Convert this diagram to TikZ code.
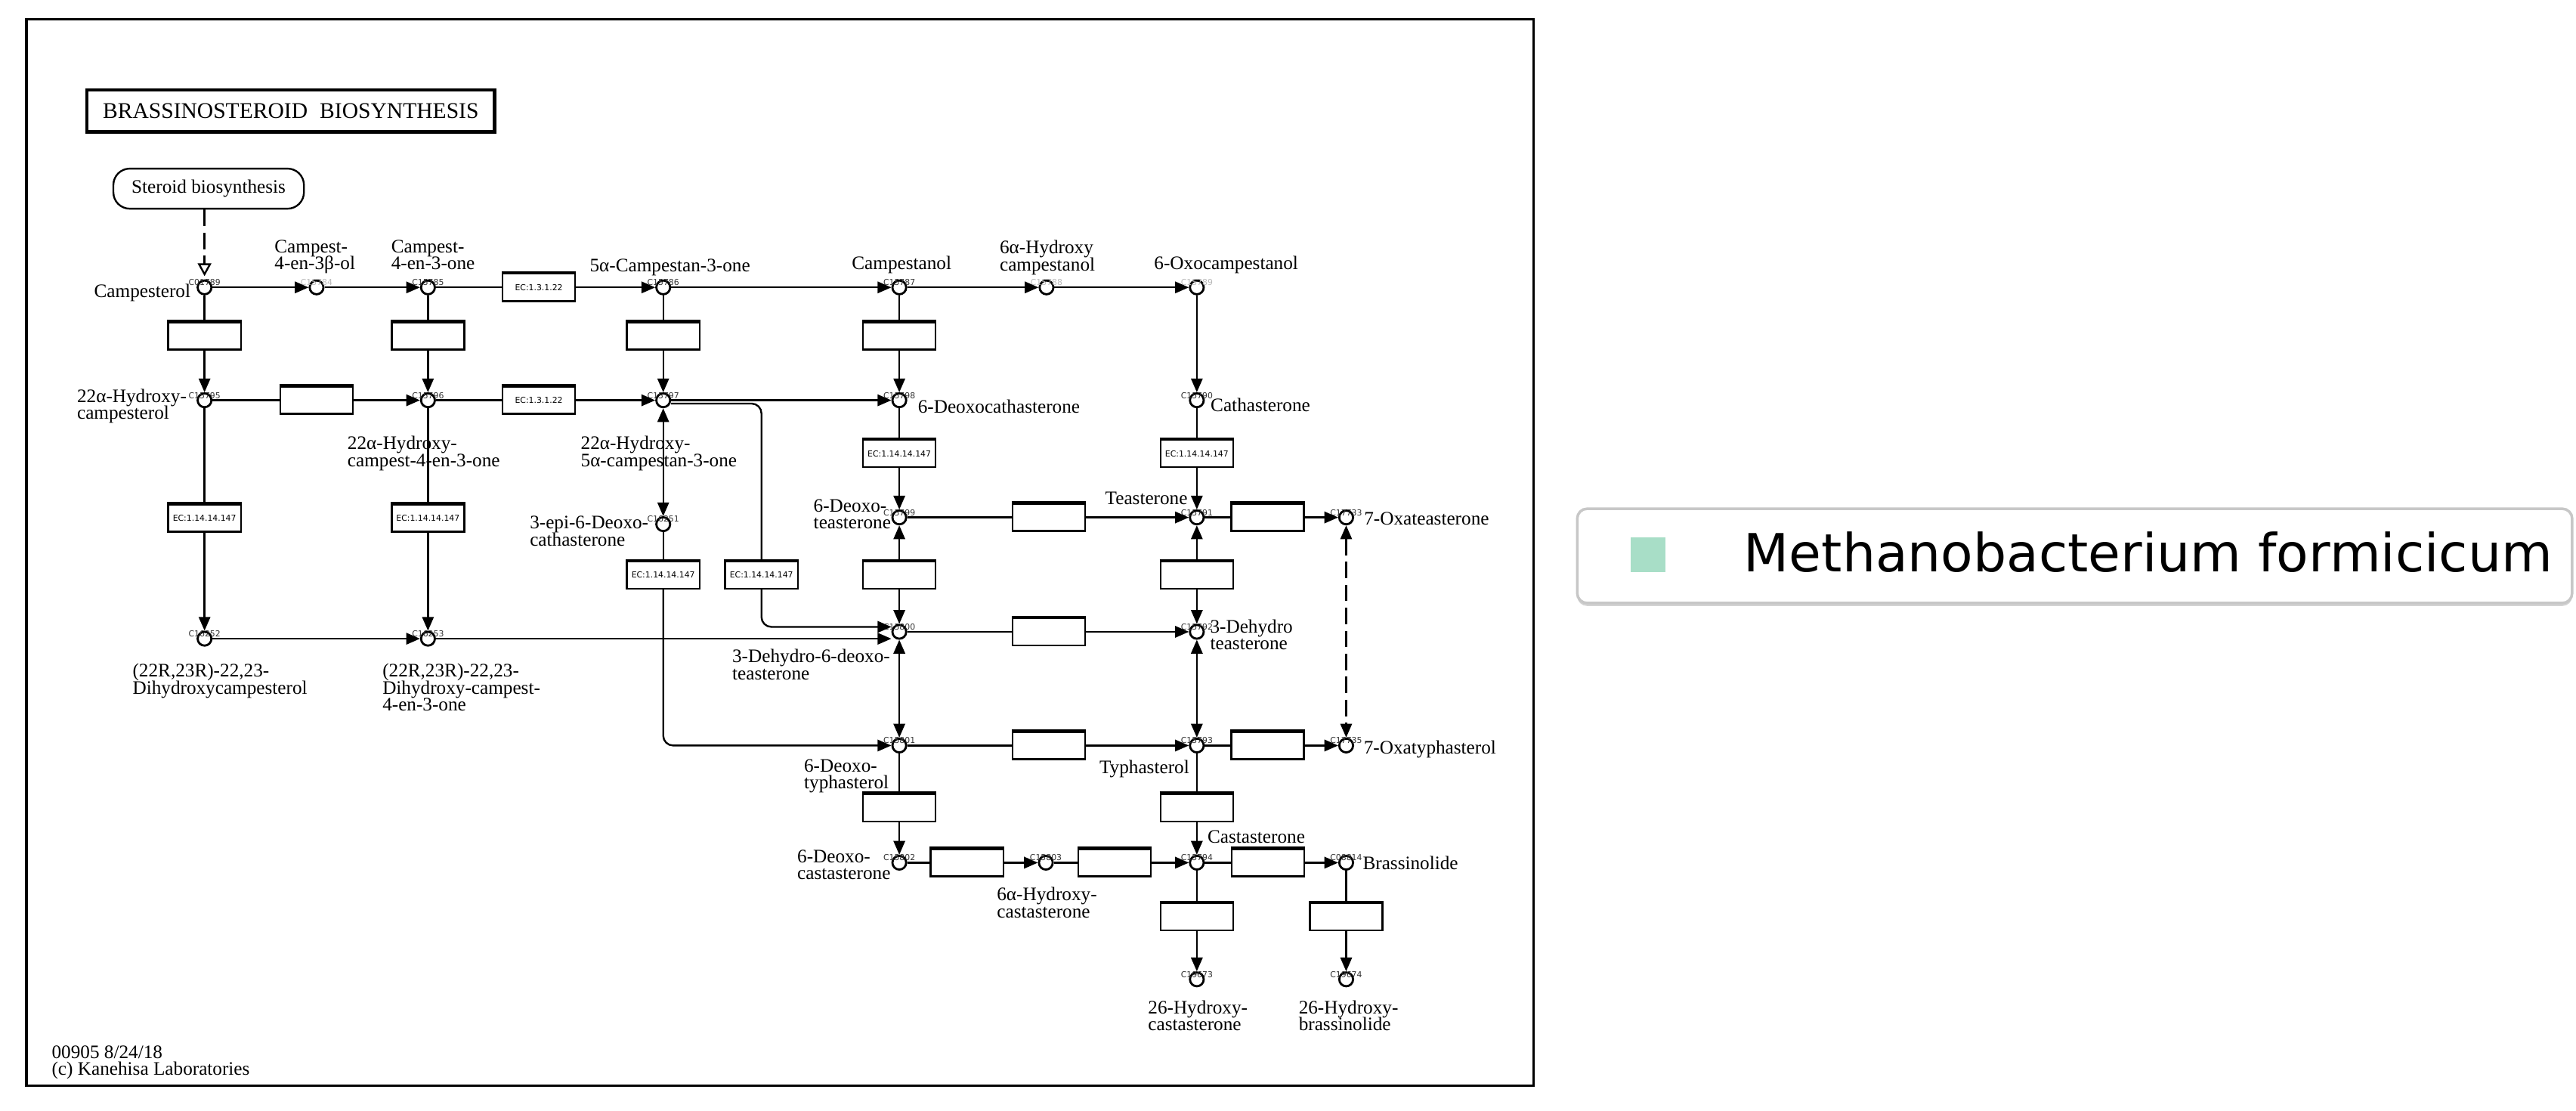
\documentclass[tikz,border=0pt]{standalone}
\usepackage{fontspec}
\setmainfont{Liberation Serif}
\newfontfamily\tagfont{DejaVu Sans}
\usetikzlibrary{arrows.meta,calc,shadows}
\definecolor{legendgreen}{HTML}{A8DEC7}

% label font: tight KEGG-like line spacing
\newcommand\lblfont{\fontsize{5.8pt}{5.15pt}\selectfont\lineskiplimit=-5pt\lineskip=0pt\relax}
\newcommand\tagsize{\tagfont\fontsize{2.5pt}{3pt}\selectfont}

% compound: circle plus its ID written over it
\newcommand\cpd[4][cid]{%
  \node[cpd] (#2) at (#3,#4) {};
  \node[#1] (#2-id) at ($(#2)+(0,-3)$) {#2};}

\begin{document}
\begin{tikzpicture}[x=0.5pt,y=-0.5pt,line width=0.55pt,
  cpd/.style={circle,draw,line width=0.65pt,fill=white,minimum size=4.2pt,inner sep=0pt},
  enz/.style={draw,line width=0.55pt,fill=white,minimum width=22.1pt,minimum height=8.3pt,
    inner sep=0pt,font=\tagsize,
    append after command={(\tikzlastnode.north west) edge[line width=1pt] (\tikzlastnode.north east)}},
  lbl/.style={inner sep=0pt,font=\lblfont,align=left,anchor=north west},
  cid/.style={inner sep=0pt,font=\tagsize,text=black!80},
  cidl/.style={cid,text=black!28},
  rx/.style={-{Triangle[length=4.2pt,width=3.5pt]}},
  rxx/.style={{Triangle[length=4.2pt,width=3.5pt]}-{Triangle[length=4.2pt,width=3.5pt]}},
  dsh/.style={dash pattern=on 5pt off 2pt}]

\useasboundingbox (0,0) rectangle (1568,676);

% map frame
\draw[line width=0.8pt] (16.2,11.8) rectangle (933.4,660.6);

% title and link box
\node[draw,line width=1pt,minimum width=124pt,minimum height=12.8pt,inner sep=0pt,
  font=\fontsize{6.8pt}{8pt}\selectfont] (title) at (177,67.4)
  {BRASSINOSTEROID\hspace{2pt} BIOSYNTHESIS};
\node[draw,rounded corners=5pt,minimum width=58pt,minimum height=12.2pt,inner sep=0pt,
  font=\lblfont] (steroid) at (127,114.8) {Steroid biosynthesis};

% compounds
\cpd{C01789}{124.5}{174.9}
\cpd[cidl]{C15784}{192.7}{174.9}
\cpd{C15785}{260.5}{174.9}
\cpd{C15786}{403.7}{174.9}
\cpd{C15787}{547.4}{174.9}
\cpd[cidl]{C15788}{637}{174.9}
\cpd[cidl]{C15789}{728.5}{174.9}
\cpd{C15795}{124.5}{243.6}
\cpd{C15796}{260.5}{243.6}
\cpd{C15797}{403.7}{243.6}
\cpd{C15798}{547.4}{243.6}
\cpd{C15790}{728.5}{243.6}
\cpd{C16251}{403.7}{319}
\cpd{C15799}{547.4}{314.9}
\cpd{C15791}{728.5}{314.9}
\cpd{C17733}{819.4}{314.9}
\cpd{C16252}{124.5}{388.7}
\cpd{C16253}{260.5}{388.7}
\cpd{C15800}{547.4}{384.5}
\cpd{C15792}{728.5}{384.5}
\cpd{C15801}{547.4}{453.7}
\cpd{C15793}{728.5}{453.7}
\cpd{C17735}{819.4}{453.7}
\cpd{C15802}{547.4}{525}
\cpd{C15803}{636.6}{525}
\cpd{C15794}{728.5}{525}
\cpd{C08814}{819.4}{525}
\cpd{C19673}{728.5}{596}
\cpd{C19674}{819.4}{596}

% enzyme boxes
\node[enz] (v1) at (124.5,204.5) {};
\node[enz] (v2) at (260.5,204.5) {};
\node[enz] (v3) at (403.7,204.5) {};
\node[enz] (v4) at (547.4,204.5) {};
\node[enz] (h1) at (328,174.9) {EC:1.3.1.22};
\node[enz] (h2) at (192.7,243.6) {};
\node[enz] (h3) at (328,243.6) {EC:1.3.1.22};
\node[enz] (v5) at (124.5,315.3) {EC:1.14.14.147};
\node[enz] (v6) at (260.5,315.3) {EC:1.14.14.147};
\node[enz] (v7) at (403.7,350) {EC:1.14.14.147};
\node[enz] (v8) at (463.5,350) {EC:1.14.14.147};
\node[enz] (v9) at (547.4,276) {EC:1.14.14.147};
\node[enz] (v10) at (728.5,276) {EC:1.14.14.147};
\node[enz] (v11) at (547.4,350) {};
\node[enz] (v12) at (728.5,350) {};
\node[enz] (v13) at (547.4,491.6) {};
\node[enz] (v14) at (728.5,491.6) {};
\node[enz] (v15) at (728.5,558) {};
\node[enz] (v16) at (819.4,558) {};
\node[enz] (h4) at (638.5,314.9) {};
\node[enz] (h5) at (771.6,314.9) {};
\node[enz] (h6) at (638.5,384.5) {};
\node[enz] (h7) at (638.5,453.7) {};
\node[enz] (h8) at (771.6,453.7) {};
\node[enz] (h9) at (588.6,525) {};
\node[enz] (h10) at (678.5,525) {};
\node[enz] (h11) at (771.7,525) {};

% reactions
\draw[dsh,-{Triangle[open,length=3.9pt,width=4.1pt]},shorten >=1pt] (steroid.south -| C01789) -- (C01789);
\draw[rx] (C01789) -- (C15784);
\draw[rx] (C15784) -- (C15785);
\draw (C15785) -- (h1); \draw[rx] (h1) -- (C15786);
\draw[rx] (C15786) -- (C15787);
\draw[rx] (C15787) -- (C15788);
\draw[rx] (C15788) -- (C15789);
\draw (C01789) -- (v1); \draw[rx] (v1) -- (C15795);
\draw (C15785) -- (v2); \draw[rx] (v2) -- (C15796);
\draw (C15786) -- (v3); \draw[rx] (v3) -- (C15797);
\draw (C15787) -- (v4); \draw[rx] (v4) -- (C15798);
\draw[rx] (C15789) -- (C15790);
\draw (C15795) -- (h2); \draw[rx] (h2) -- (C15796);
\draw (C15796) -- (h3); \draw[rx] (h3) -- (C15797);
\draw[rx] (C15797) -- (C15798);
\draw (C15795) -- (v5); \draw[rx] (v5) -- (C16252);
\draw (C15796) -- (v6); \draw[rx] (v6) -- (C16253);
\draw[rx] (C16252) -- (C16253);
\draw[rx] (C16253) -- (C16253 -| C15800.west);
\draw[rxx] (C15797) -- (C16251);
\draw (C16251) -- (v7);
\draw[rx,rounded corners=3pt] (v7) |- (C15801);
\draw[rounded corners=3pt] ($(C15797.east)+(0,2)$) -| (v8);
\draw[rx,rounded corners=3pt] (v8) |- ($(C15800.west)+(0,-3)$);
\draw (C15798) -- (v9); \draw[rx] (v9) -- (C15799);
\draw (C15790) -- (v10); \draw[rx] (v10) -- (C15791);
\draw (C15799) -- (h4); \draw[rx] (h4) -- (C15791);
\draw (C15791) -- (h5); \draw[rx] (h5) -- (C17733);
\draw[rx] (v11) -- (C15799); \draw[rx] (v11) -- (C15800);
\draw[rx] (v12) -- (C15791); \draw[rx] (v12) -- (C15792);
\draw (C15800) -- (h6); \draw[rx] (h6) -- (C15792);
\draw[rxx] (C15800) -- (C15801);
\draw[rxx] (C15792) -- (C15793);
\draw[rxx,dsh] (C17733) -- (C17735);
\draw (C15801) -- (h7); \draw[rx] (h7) -- (C15793);
\draw (C15793) -- (h8); \draw[rx] (h8) -- (C17735);
\draw (C15801) -- (v13); \draw[rx] (v13) -- (C15802);
\draw (C15793) -- (v14); \draw[rx] (v14) -- (C15794);
\draw (C15802) -- (h9); \draw[rx] (h9) -- (C15803);
\draw (C15803) -- (h10); \draw[rx] (h10) -- (C15794);
\draw (C15794) -- (h11); \draw[rx] (h11) -- (C08814);
\draw (C15794) -- (v15); \draw[rx] (v15) -- (C19673);
\draw (C08814) -- (v16); \draw[rx] (v16) -- (C19674);

% compound names
\node[lbl,anchor=north east] (t1) at (116.5,172.2) {Campesterol};
\node[lbl] (t2) at (166.6,145.4) {Campest-\\4-en-3β-ol};
\node[lbl] (t3) at (237.6,145.4) {Campest-\\4-en-3-one};
\node[lbl] (t4) at (358.5,157) {5α-Campestan-3-one};
\node[lbl] (t5) at (518,155.5) {Campestanol};
\node[lbl] (t6) at (608,145.8) {6α-Hydroxy\\campestanol};
\node[lbl] (t7) at (702,155.5) {6-Oxocampestanol};
\node[lbl] (t8) at (46.4,236.2) {22α-Hydroxy-\\campesterol};
\node[lbl] (t9) at (211,264.9) {22α-Hydroxy-\\campest-4-en-3-one};
\node[lbl] (t10) at (353,264.9) {22α-Hydroxy-\\5α-campestan-3-one};
\node[lbl] (t11) at (558.2,242.6) {6-Deoxocathasterone};
\node[lbl] (t12) at (736.4,241.7) {Cathasterone};
\node[lbl] (t13) at (494.7,303.4) {6-Deoxo-\\teasterone};
\node[lbl] (t14) at (672.2,299) {Teasterone};
\node[lbl] (t15) at (829.8,311.3) {7-Oxateasterone};
\node[lbl] (t16) at (322,313.7) {3-epi-6-Deoxo-\\cathasterone};
\node[lbl] (t17) at (80.2,403.4) {(22R,23R)-22,23-\\Dihydroxycampesterol};
\node[lbl] (t18) at (232.3,403.4) {(22R,23R)-22,23-\\Dihydroxy-campest-\\4-en-3-one};
\node[lbl] (t19) at (445.2,394.7) {3-Dehydro-6-deoxo-\\teasterone};
\node[lbl] (t20) at (736.1,376.6) {3-Dehydro\\teasterone};
\node[lbl] (t21) at (488.9,461.4) {6-Deoxo-\\typhasterol};
\node[lbl] (t22) at (668.7,462.3) {Typhasterol};
\node[lbl] (t23) at (829.6,450) {7-Oxatyphasterol};
\node[lbl] (t24) at (484.8,516.7) {6-Deoxo-\\castasterone};
\node[lbl] (t25) at (606.3,539.6) {6α-Hydroxy-\\castasterone};
\node[lbl] (t26) at (734.5,505) {Castasterone};
\node[lbl] (t27) at (829,520.6) {Brassinolide};
\node[lbl] (t28) at (698.3,608.3) {26-Hydroxy-\\castasterone};
\node[lbl] (t29) at (790,608.3) {26-Hydroxy-\\brassinolide};
\node[lbl] (foot) at (31,635.7) {00905 8/24/18\\(c) Kanehisa Laboratories};

% organism legend
\node[draw=black!22,line width=0.8pt,fill=white,rounded corners=3pt,
  minimum width=302.8pt,minimum height=28.7pt,inner sep=0pt,
  drop shadow={shadow xshift=0pt,shadow yshift=-0.9pt,opacity=0.35}] (legend) at (1262.85,338.3) {};
\node[fill=legendgreen,minimum size=10.6pt,inner sep=0pt] (swatch) at (1003.2,337.5) {};
\node[anchor=base west,inner sep=0pt,font=\tagfont\fontsize{16pt}{19pt}\selectfont] (org) at (1061,348)
  {Methanobacterium formicicum};
\end{tikzpicture}
\end{document}
